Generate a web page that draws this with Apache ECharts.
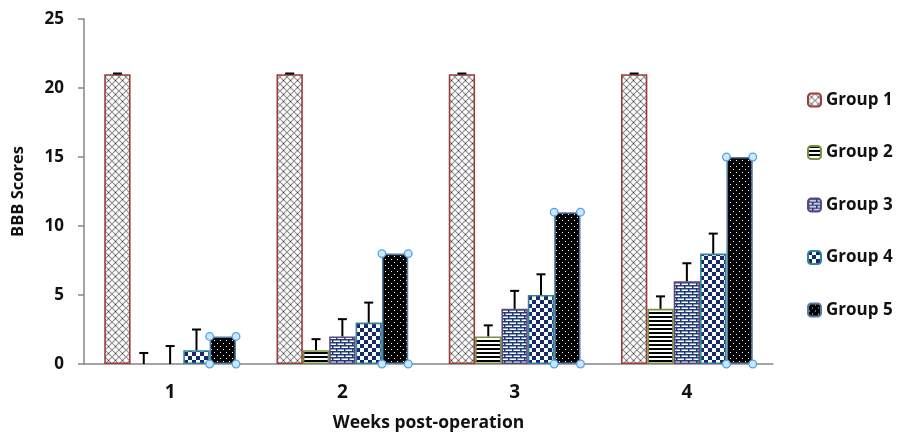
<!DOCTYPE html>
<html><head><meta charset="utf-8">
<script src="https://cdn.jsdelivr.net/npm/echarts@6/dist/echarts.min.js"></script>
<style>html,body{margin:0;padding:0;background:#fff}#c{width:899px;height:437px}</style>
</head><body><div id="c"></div>
<script>
const weeks = ['1','2','3','4'];
const groupNames = ['Group 1','Group 2','Group 3','Group 4','Group 5'];
const group1 = [21, 21, 21, 21];
const group2 = [0, 1, 2, 4];
const group3 = [0, 2, 4, 6];
const group4 = [1, 3, 5, 8];
const group5 = [2, 8, 11, 15];
const err1 = [0.05, 0.05, 0.05, 0.05];
const err2 = [0.8, 0.8, 0.8, 0.9];
const err3 = [1.3, 1.25, 1.3, 1.3];
const err4 = [1.5, 1.45, 1.5, 1.45];
const yTicks = {min: 0, max: 25, interval: 5};

const values = [group1, group2, group3, group4, group5];
const errors = [err1, err2, err3, err4, null];

function tile(w, h, draw) {
  const c = document.createElement('canvas');
  c.width = w; c.height = h;
  const g = c.getContext('2d');
  draw(g, w, h);
  return {image: c, repeat: 'repeat'};
}
const pat1 = tile(7, 7, (g) => {
  g.fillStyle = '#fff'; g.fillRect(0,0,7,7);
  g.strokeStyle = '#8f8f8f'; g.lineWidth = 1.1;
  g.beginPath(); g.moveTo(0,0); g.lineTo(7,7); g.moveTo(7,0); g.lineTo(0,7); g.stroke();
  g.fillStyle = '#333'; g.fillRect(3,3,1,1);
});
const pat2 = tile(4, 4, (g) => {
  g.fillStyle = '#fff'; g.fillRect(0,0,4,4);
  g.fillStyle = '#000'; g.fillRect(0,0,4,2);
});
const pat3 = tile(8, 6, (g) => {
  g.fillStyle = '#fff'; g.fillRect(0,0,8,6);
  g.fillStyle = '#1f3a7a';
  g.fillRect(0,0,8,1.5); g.fillRect(0,3,8,1.5);
  g.fillRect(0,0,1.5,3); g.fillRect(4,3,1.5,3);
});
const pat4 = tile(8, 8, (g) => {
  g.fillStyle = '#fff'; g.fillRect(0,0,8,8);
  g.fillStyle = '#142a6b'; g.fillRect(0,0,4,4); g.fillRect(4,4,4,4);
});
const pat5 = tile(6, 6, (g) => {
  g.fillStyle = '#000'; g.fillRect(0,0,6,6);
  g.fillStyle = '#fff'; g.fillRect(1,1,1,1); g.fillRect(4,4,1,1);
});
const patterns = [pat1, pat2, pat3, pat4, pat5];
const borders = ['#9b3b3a', '#76923c', '#5f497a', '#31849b', '#5a7ba0'];

const catGap = 0.235;
const font = '"Open Sans", "Noto Sans", sans-serif';

const series = [];
values.forEach((v, i) => {
  series.push({
    name: groupNames[i], type: 'bar',
    data: v.map(val => val === 0 ? {value: val, itemStyle: {borderWidth: 0}} : val),
    barGap: '0%', barCategoryGap: (catGap*100) + '%',
    itemStyle: {color: patterns[i], borderColor: borders[i], borderWidth: 1.6},
    emphasis: {disabled: true}, z: 2
  });
});
// error bars
errors.forEach((e, i) => {
  if (!e) return;
  series.push({
    type: 'custom', name: 'err' + i, z: 5, silent: true,
    data: weeks.map((w, k) => [k, values[i][k], values[i][k] + e[k]]),
    renderItem: function (params, api) {
      const band = api.size([1, 0])[0];
      const bw = band * (1 - catGap) / 5;
      const base = api.coord([api.value(0), api.value(1)]);
      const top = api.coord([api.value(0), api.value(2)]);
      const x = base[0] + (i - 2) * bw;
      return {type: 'group', children: [
        {type: 'line', shape: {x1: x, y1: base[1], x2: x, y2: top[1]}, style: {stroke: '#000', lineWidth: 2}},
        {type: 'line', shape: {x1: x - 4.5, y1: top[1], x2: x + 4.5, y2: top[1]}, style: {stroke: '#000', lineWidth: 2}}
      ]};
    }
  });
});
// selection handles on group 5
series.push({
  type: 'custom', name: 'handles', z: 6, silent: true,
  data: weeks.map((w, k) => [k, group5[k]]),
  renderItem: function (params, api) {
    const band = api.size([1, 0])[0];
    const bw = band * (1 - catGap) / 5;
    const top = api.coord([api.value(0), api.value(1)]);
    const bot = api.coord([api.value(0), 0]);
    const cx = top[0] + 2 * bw;
    const xs = [cx - bw/2, cx + bw/2];
    const ys = [top[1], bot[1]];
    const ch = [];
    xs.forEach(x => ys.forEach(y => ch.push({type: 'circle', shape: {cx: x, cy: y, r: 3.8},
      style: {fill: '#cfe6fb', stroke: '#4da3ef', lineWidth: 1.3}})));
    return {type: 'group', children: ch};
  }
});

const chart = echarts.init(document.getElementById('c'), null, {renderer: 'canvas'});
chart.setOption({
  animation: false,
  backgroundColor: '#fff',
  grid: {left: 84, top: 19, right: 126, bottom: 70.5},
  legend: {
    data: groupNames, orient: 'vertical', left: 802, top: 86,
    itemWidth: 13, itemHeight: 13, itemGap: 34.5,
    textStyle: {fontFamily: font, fontWeight: 'bold', fontSize: 17, color: '#111', lineHeight: 18},
    selectedMode: false
  },
  xAxis: {
    type: 'category', data: weeks,
    axisLine: {lineStyle: {color: '#868686', width: 1.5}},
    axisTick: {show: false},
    axisLabel: {fontFamily: font, fontWeight: 'bold', fontSize: 19, color: '#111', margin: 19},
    name: 'Weeks post-operation', nameLocation: 'middle', nameGap: 50,
    nameTextStyle: {fontFamily: font, fontWeight: 'bold', fontSize: 17.5, color: '#111'}
  },
  yAxis: {
    type: 'value', min: yTicks.min, max: yTicks.max, interval: yTicks.interval,
    splitLine: {show: false},
    axisLine: {show: true, lineStyle: {color: '#868686', width: 1.5}},
    axisTick: {show: true, length: 6, lineStyle: {color: '#868686', width: 1.5}},
    axisLabel: {fontFamily: font, fontWeight: 'bold', fontSize: 17, color: '#111', margin: 20},
    name: 'BBB Scores', nameLocation: 'middle', nameGap: 57, nameRotate: 90,
    nameTextStyle: {fontFamily: font, fontWeight: 'bold', fontSize: 16.5, color: '#111'}
  },
  series: series
});
</script></body></html>
